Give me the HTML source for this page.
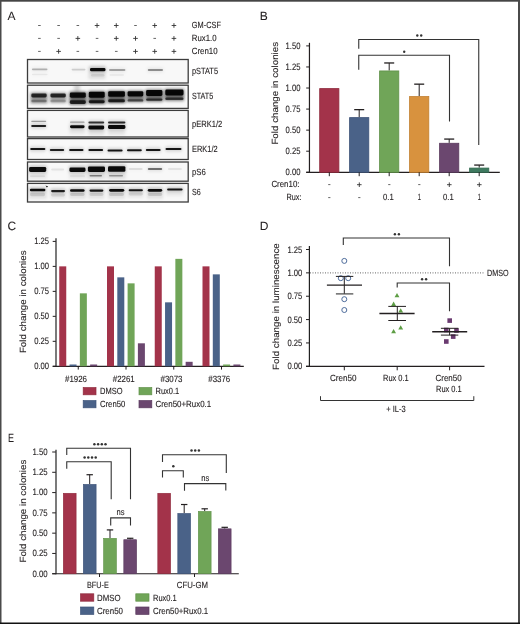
<!DOCTYPE html>
<html><head><meta charset="utf-8"><style>
html,body{margin:0;padding:0;background:#fff;}
svg{display:block;will-change:transform;}
text{font-family:"Liberation Sans",sans-serif;stroke:#231f20;stroke-width:0.12px;text-rendering:geometricPrecision;}
</style></head><body>
<svg width="520" height="624" viewBox="0 0 520 624">
<rect x="0" y="0" width="520" height="624" fill="#ffffff"/>
<text x="7.60" y="19.80" font-size="12" fill="#231f20" style="stroke-width:0.05px">A</text>
<line x1="38.10" y1="25.50" x2="40.70" y2="25.50" stroke="#4a4a4a" stroke-width="0.85"/>
<line x1="57.32" y1="25.50" x2="59.92" y2="25.50" stroke="#4a4a4a" stroke-width="0.85"/>
<line x1="76.54" y1="25.50" x2="79.14" y2="25.50" stroke="#4a4a4a" stroke-width="0.85"/>
<line x1="94.76" y1="25.50" x2="99.36" y2="25.50" stroke="#333" stroke-width="0.9"/>
<line x1="97.06" y1="23.20" x2="97.06" y2="27.80" stroke="#333" stroke-width="0.9"/>
<line x1="113.98" y1="25.50" x2="118.58" y2="25.50" stroke="#333" stroke-width="0.9"/>
<line x1="116.28" y1="23.20" x2="116.28" y2="27.80" stroke="#333" stroke-width="0.9"/>
<line x1="134.20" y1="25.50" x2="136.80" y2="25.50" stroke="#4a4a4a" stroke-width="0.85"/>
<line x1="152.42" y1="25.50" x2="157.02" y2="25.50" stroke="#333" stroke-width="0.9"/>
<line x1="154.72" y1="23.20" x2="154.72" y2="27.80" stroke="#333" stroke-width="0.9"/>
<line x1="171.64" y1="25.50" x2="176.24" y2="25.50" stroke="#333" stroke-width="0.9"/>
<line x1="173.94" y1="23.20" x2="173.94" y2="27.80" stroke="#333" stroke-width="0.9"/>
<text x="191.80" y="27.80" font-size="9.0" fill="#231f20" textLength="29.10" lengthAdjust="spacingAndGlyphs">GM-CSF</text>
<line x1="38.10" y1="38.40" x2="40.70" y2="38.40" stroke="#4a4a4a" stroke-width="0.85"/>
<line x1="57.32" y1="38.40" x2="59.92" y2="38.40" stroke="#4a4a4a" stroke-width="0.85"/>
<line x1="75.54" y1="38.40" x2="80.14" y2="38.40" stroke="#333" stroke-width="0.9"/>
<line x1="77.84" y1="36.10" x2="77.84" y2="40.70" stroke="#333" stroke-width="0.9"/>
<line x1="95.76" y1="38.40" x2="98.36" y2="38.40" stroke="#4a4a4a" stroke-width="0.85"/>
<line x1="113.98" y1="38.40" x2="118.58" y2="38.40" stroke="#333" stroke-width="0.9"/>
<line x1="116.28" y1="36.10" x2="116.28" y2="40.70" stroke="#333" stroke-width="0.9"/>
<line x1="133.20" y1="38.40" x2="137.80" y2="38.40" stroke="#333" stroke-width="0.9"/>
<line x1="135.50" y1="36.10" x2="135.50" y2="40.70" stroke="#333" stroke-width="0.9"/>
<line x1="153.42" y1="38.40" x2="156.02" y2="38.40" stroke="#4a4a4a" stroke-width="0.85"/>
<line x1="171.64" y1="38.40" x2="176.24" y2="38.40" stroke="#333" stroke-width="0.9"/>
<line x1="173.94" y1="36.10" x2="173.94" y2="40.70" stroke="#333" stroke-width="0.9"/>
<text x="191.80" y="40.70" font-size="9.0" fill="#231f20" textLength="24.70" lengthAdjust="spacingAndGlyphs">Rux1.0</text>
<line x1="38.10" y1="51.40" x2="40.70" y2="51.40" stroke="#4a4a4a" stroke-width="0.85"/>
<line x1="56.32" y1="51.40" x2="60.92" y2="51.40" stroke="#333" stroke-width="0.9"/>
<line x1="58.62" y1="49.10" x2="58.62" y2="53.70" stroke="#333" stroke-width="0.9"/>
<line x1="76.54" y1="51.40" x2="79.14" y2="51.40" stroke="#4a4a4a" stroke-width="0.85"/>
<line x1="95.76" y1="51.40" x2="98.36" y2="51.40" stroke="#4a4a4a" stroke-width="0.85"/>
<line x1="114.98" y1="51.40" x2="117.58" y2="51.40" stroke="#4a4a4a" stroke-width="0.85"/>
<line x1="133.20" y1="51.40" x2="137.80" y2="51.40" stroke="#333" stroke-width="0.9"/>
<line x1="135.50" y1="49.10" x2="135.50" y2="53.70" stroke="#333" stroke-width="0.9"/>
<line x1="152.42" y1="51.40" x2="157.02" y2="51.40" stroke="#333" stroke-width="0.9"/>
<line x1="154.72" y1="49.10" x2="154.72" y2="53.70" stroke="#333" stroke-width="0.9"/>
<line x1="171.64" y1="51.40" x2="176.24" y2="51.40" stroke="#333" stroke-width="0.9"/>
<line x1="173.94" y1="49.10" x2="173.94" y2="53.70" stroke="#333" stroke-width="0.9"/>
<text x="191.80" y="54.00" font-size="9.0" fill="#231f20" textLength="25.80" lengthAdjust="spacingAndGlyphs">Cren10</text>
<text x="192.00" y="73.90" font-size="9.0" fill="#231f20" textLength="26.00" lengthAdjust="spacingAndGlyphs">pSTAT5</text>
<text x="192.00" y="99.30" font-size="9.0" fill="#231f20" textLength="21.20" lengthAdjust="spacingAndGlyphs">STAT5</text>
<text x="192.00" y="126.80" font-size="9.0" fill="#231f20" textLength="30.20" lengthAdjust="spacingAndGlyphs">pERK1/2</text>
<text x="192.00" y="152.00" font-size="9.0" fill="#231f20" textLength="25.60" lengthAdjust="spacingAndGlyphs">ERK1/2</text>
<text x="192.00" y="174.60" font-size="9.0" fill="#231f20" textLength="13.80" lengthAdjust="spacingAndGlyphs">pS6</text>
<text x="192.00" y="195.30" font-size="9.0" fill="#231f20" textLength="8.70" lengthAdjust="spacingAndGlyphs">S6</text>
<defs><filter id="bb" x="-20%" y="-100%" width="140%" height="300%"><feGaussianBlur stdDeviation="0.45"/></filter><filter id="bh" x="-20%" y="-100%" width="140%" height="300%"><feGaussianBlur stdDeviation="1.6"/></filter><filter id="bs" x="-100%" y="-100%" width="300%" height="300%"><feGaussianBlur stdDeviation="1.5"/></filter><clipPath id="bc"><rect x="27.5" y="59.5" width="160.7" height="23.5"/><rect x="27.5" y="85.2" width="160.7" height="23.200000000000003"/><rect x="27.5" y="110.4" width="160.7" height="26.599999999999994"/><rect x="27.5" y="138.6" width="160.7" height="20.900000000000006"/><rect x="27.5" y="162.0" width="160.7" height="19.19999999999999"/><rect x="27.5" y="183.4" width="160.7" height="18.599999999999994"/></clipPath></defs>
<rect x="27.5" y="59.5" width="160.7" height="23.5" fill="#f8f8f8"/>
<rect x="27.5" y="85.2" width="160.7" height="23.200000000000003" fill="#f8f8f8"/>
<rect x="27.5" y="110.4" width="160.7" height="26.599999999999994" fill="#f8f8f8"/>
<rect x="27.5" y="138.6" width="160.7" height="20.900000000000006" fill="#f8f8f8"/>
<rect x="27.5" y="162.0" width="160.7" height="19.19999999999999" fill="#f8f8f8"/>
<rect x="27.5" y="183.4" width="160.7" height="18.599999999999994" fill="#f8f8f8"/>
<g clip-path="url(#bc)"><g filter="url(#bh)">
<rect x="31.40" y="66.90" width="16.60" height="4.80" rx="2" fill="#000" fill-opacity="0.045"/>
<rect x="31.40" y="72.35" width="16.60" height="4.50" rx="2" fill="#000" fill-opacity="0.010"/>
<rect x="71.10" y="67.30" width="14.90" height="4.60" rx="2" fill="#000" fill-opacity="0.026"/>
<rect x="89.50" y="66.40" width="16.50" height="6.40" rx="2" fill="#000" fill-opacity="0.160"/>
<rect x="90.50" y="72.50" width="14.50" height="5.40" rx="2" fill="#000" fill-opacity="0.013"/>
<rect x="108.50" y="67.60" width="17.40" height="4.80" rx="2" fill="#000" fill-opacity="0.054"/>
<rect x="109.00" y="72.80" width="15.50" height="4.40" rx="2" fill="#000" fill-opacity="0.010"/>
<rect x="147.30" y="67.60" width="16.20" height="4.80" rx="2" fill="#000" fill-opacity="0.067"/>
<rect x="30.80" y="92.10" width="16.40" height="6.80" rx="2" fill="#000" fill-opacity="0.128"/>
<rect x="30.80" y="98.20" width="16.40" height="5.60" rx="2" fill="#000" fill-opacity="0.048"/>
<rect x="49.90" y="92.10" width="16.40" height="6.80" rx="2" fill="#000" fill-opacity="0.131"/>
<rect x="49.90" y="98.30" width="16.40" height="5.40" rx="2" fill="#000" fill-opacity="0.032"/>
<rect x="69.30" y="91.00" width="17.00" height="8.20" rx="2" fill="#000" fill-opacity="0.152"/>
<rect x="69.30" y="98.80" width="17.00" height="6.60" rx="2" fill="#000" fill-opacity="0.128"/>
<rect x="88.30" y="90.20" width="16.90" height="9.00" rx="2" fill="#000" fill-opacity="0.160"/>
<rect x="88.30" y="98.70" width="16.90" height="6.00" rx="2" fill="#000" fill-opacity="0.131"/>
<rect x="107.70" y="89.70" width="17.70" height="8.60" rx="2" fill="#000" fill-opacity="0.160"/>
<rect x="107.70" y="97.80" width="17.70" height="6.00" rx="2" fill="#000" fill-opacity="0.128"/>
<rect x="127.10" y="89.70" width="16.70" height="8.20" rx="2" fill="#000" fill-opacity="0.160"/>
<rect x="127.10" y="97.70" width="16.70" height="5.40" rx="2" fill="#000" fill-opacity="0.088"/>
<rect x="145.60" y="88.50" width="17.30" height="9.00" rx="2" fill="#000" fill-opacity="0.160"/>
<rect x="145.60" y="96.90" width="17.30" height="5.40" rx="2" fill="#000" fill-opacity="0.112"/>
<rect x="164.80" y="88.05" width="19.20" height="8.90" rx="2" fill="#000" fill-opacity="0.160"/>
<rect x="164.80" y="96.10" width="19.20" height="5.40" rx="2" fill="#000" fill-opacity="0.109"/>
<rect x="30.70" y="119.20" width="16.00" height="4.20" rx="2" fill="#000" fill-opacity="0.056"/>
<rect x="30.70" y="123.40" width="16.00" height="5.00" rx="2" fill="#000" fill-opacity="0.144"/>
<rect x="69.50" y="120.10" width="15.60" height="4.20" rx="2" fill="#000" fill-opacity="0.056"/>
<rect x="69.50" y="123.70" width="15.60" height="6.00" rx="2" fill="#000" fill-opacity="0.160"/>
<rect x="87.90" y="120.10" width="16.80" height="5.00" rx="2" fill="#000" fill-opacity="0.128"/>
<rect x="87.90" y="123.90" width="16.80" height="7.00" rx="2" fill="#000" fill-opacity="0.160"/>
<rect x="107.50" y="120.00" width="18.40" height="5.00" rx="2" fill="#000" fill-opacity="0.136"/>
<rect x="107.50" y="123.50" width="18.40" height="7.00" rx="2" fill="#000" fill-opacity="0.160"/>
<rect x="29.70" y="146.60" width="16.20" height="5.00" rx="2" fill="#000" fill-opacity="0.152"/>
<rect x="49.30" y="147.50" width="15.40" height="5.00" rx="2" fill="#000" fill-opacity="0.144"/>
<rect x="68.60" y="147.50" width="15.40" height="5.00" rx="2" fill="#000" fill-opacity="0.152"/>
<rect x="87.90" y="147.50" width="15.70" height="5.00" rx="2" fill="#000" fill-opacity="0.152"/>
<rect x="107.00" y="147.90" width="16.10" height="5.00" rx="2" fill="#000" fill-opacity="0.152"/>
<rect x="126.50" y="147.70" width="15.80" height="5.00" rx="2" fill="#000" fill-opacity="0.152"/>
<rect x="145.30" y="147.50" width="15.80" height="5.00" rx="2" fill="#000" fill-opacity="0.152"/>
<rect x="165.00" y="146.60" width="17.00" height="5.00" rx="2" fill="#000" fill-opacity="0.152"/>
<rect x="28.60" y="165.40" width="18.10" height="8.00" rx="2" fill="#000" fill-opacity="0.160"/>
<rect x="29.50" y="174.00" width="16.00" height="4.20" rx="2" fill="#000" fill-opacity="0.016"/>
<rect x="50.60" y="167.10" width="14.10" height="5.00" rx="2" fill="#000" fill-opacity="0.013"/>
<rect x="68.90" y="166.10" width="17.10" height="7.40" rx="2" fill="#000" fill-opacity="0.160"/>
<rect x="69.50" y="173.90" width="16.00" height="4.20" rx="2" fill="#000" fill-opacity="0.016"/>
<rect x="87.40" y="164.90" width="18.10" height="8.60" rx="2" fill="#000" fill-opacity="0.160"/>
<rect x="89.00" y="173.55" width="13.50" height="4.50" rx="2" fill="#000" fill-opacity="0.072"/>
<rect x="107.50" y="164.70" width="18.40" height="8.60" rx="2" fill="#000" fill-opacity="0.160"/>
<rect x="108.50" y="173.60" width="15.00" height="4.40" rx="2" fill="#000" fill-opacity="0.056"/>
<rect x="128.20" y="166.50" width="14.90" height="5.00" rx="2" fill="#000" fill-opacity="0.016"/>
<rect x="147.30" y="166.60" width="15.40" height="5.00" rx="2" fill="#000" fill-opacity="0.088"/>
<rect x="167.40" y="166.50" width="14.90" height="5.00" rx="2" fill="#000" fill-opacity="0.013"/>
<rect x="29.40" y="187.30" width="16.50" height="5.40" rx="2" fill="#000" fill-opacity="0.160"/>
<rect x="29.50" y="191.25" width="16.00" height="6.50" rx="2" fill="#000" fill-opacity="0.019"/>
<rect x="50.60" y="188.50" width="14.90" height="5.20" rx="2" fill="#000" fill-opacity="0.144"/>
<rect x="50.50" y="192.00" width="15.00" height="6.00" rx="2" fill="#000" fill-opacity="0.016"/>
<rect x="69.50" y="187.70" width="15.60" height="5.60" rx="2" fill="#000" fill-opacity="0.160"/>
<rect x="69.50" y="191.50" width="15.60" height="6.00" rx="2" fill="#000" fill-opacity="0.019"/>
<rect x="89.00" y="187.95" width="14.90" height="5.30" rx="2" fill="#000" fill-opacity="0.152"/>
<rect x="89.00" y="191.50" width="14.90" height="6.00" rx="2" fill="#000" fill-opacity="0.016"/>
<rect x="108.60" y="187.40" width="16.20" height="5.80" rx="2" fill="#000" fill-opacity="0.160"/>
<rect x="108.50" y="191.50" width="16.00" height="6.00" rx="2" fill="#000" fill-opacity="0.019"/>
<rect x="128.20" y="187.70" width="15.20" height="5.00" rx="2" fill="#000" fill-opacity="0.152"/>
<rect x="128.20" y="191.00" width="15.20" height="6.00" rx="2" fill="#000" fill-opacity="0.016"/>
<rect x="147.30" y="187.40" width="15.40" height="5.80" rx="2" fill="#000" fill-opacity="0.160"/>
<rect x="147.30" y="191.50" width="15.40" height="6.00" rx="2" fill="#000" fill-opacity="0.019"/>
<rect x="166.60" y="187.00" width="16.50" height="5.00" rx="2" fill="#000" fill-opacity="0.152"/>
<rect x="69.5" y="128.5" width="15.50" height="5.50" fill="#000" fill-opacity="0.07"/>
<rect x="88.5" y="129" width="16.00" height="6.00" fill="#000" fill-opacity="0.09"/>
<rect x="108" y="129" width="17.00" height="6.00" fill="#000" fill-opacity="0.08"/>
<rect x="30.5" y="93" width="17.00" height="10.50" fill="#000" fill-opacity="0.36"/>
<rect x="50" y="93" width="16.50" height="10.00" fill="#000" fill-opacity="0.3"/>
<rect x="69.5" y="92" width="17.00" height="12.50" fill="#000" fill-opacity="0.55"/>
<rect x="88.5" y="91.5" width="17.00" height="12.50" fill="#000" fill-opacity="0.55"/>
<rect x="107.5" y="91" width="18.00" height="12.00" fill="#000" fill-opacity="0.55"/>
<rect x="127" y="91" width="17.00" height="11.00" fill="#000" fill-opacity="0.48"/>
<rect x="145.5" y="90" width="17.50" height="11.50" fill="#000" fill-opacity="0.52"/>
<rect x="164.5" y="89.5" width="19.50" height="11.00" fill="#000" fill-opacity="0.52"/>
<rect x="88.5" y="66" width="17.00" height="13.00" fill="#000" fill-opacity="0.1"/>
<rect x="28.5" y="187" width="18.50" height="12.00" fill="#000" fill-opacity="0.08"/>
<rect x="50" y="188" width="16.00" height="11.00" fill="#000" fill-opacity="0.06"/>
<rect x="69" y="188" width="17.00" height="11.00" fill="#000" fill-opacity="0.08"/>
<rect x="88" y="188" width="16.50" height="11.00" fill="#000" fill-opacity="0.07"/>
<rect x="108" y="187" width="17.00" height="12.00" fill="#000" fill-opacity="0.08"/>
<rect x="127" y="188" width="16.50" height="10.00" fill="#000" fill-opacity="0.06"/>
<rect x="147" y="187" width="16.00" height="12.00" fill="#000" fill-opacity="0.08"/>
<rect x="166" y="187" width="17.00" height="9.00" fill="#000" fill-opacity="0.06"/>
<rect x="87" y="164" width="19.00" height="15.00" fill="#000" fill-opacity="0.08"/>
<rect x="107" y="164" width="19.00" height="15.00" fill="#000" fill-opacity="0.08"/>
<rect x="29" y="165" width="18.00" height="14.00" fill="#000" fill-opacity="0.06"/>
<rect x="69" y="165" width="17.00" height="14.00" fill="#000" fill-opacity="0.06"/>
</g><g filter="url(#bb)">
<rect x="31.90" y="68.40" width="15.60" height="1.80" rx="0.90" fill="#000" fill-opacity="0.266"/>
<rect x="31.90" y="73.85" width="15.60" height="1.50" rx="0.75" fill="#000" fill-opacity="0.057"/>
<rect x="71.60" y="68.80" width="13.90" height="1.60" rx="0.80" fill="#000" fill-opacity="0.152"/>
<rect x="90.00" y="67.90" width="15.50" height="3.40" rx="1.40" fill="#000" fill-opacity="0.950"/>
<rect x="91.00" y="74.00" width="13.50" height="2.40" rx="1.20" fill="#000" fill-opacity="0.076"/>
<rect x="109.00" y="69.10" width="16.40" height="1.80" rx="0.90" fill="#000" fill-opacity="0.323"/>
<rect x="109.50" y="74.30" width="14.50" height="1.40" rx="0.70" fill="#000" fill-opacity="0.057"/>
<rect x="147.80" y="69.10" width="15.20" height="1.80" rx="0.90" fill="#000" fill-opacity="0.399"/>
<rect x="31.30" y="93.60" width="15.40" height="3.80" rx="1.40" fill="#000" fill-opacity="0.760"/>
<rect x="31.30" y="99.70" width="15.40" height="2.60" rx="1.30" fill="#000" fill-opacity="0.285"/>
<rect x="50.40" y="93.60" width="15.40" height="3.80" rx="1.40" fill="#000" fill-opacity="0.779"/>
<rect x="50.40" y="99.80" width="15.40" height="2.40" rx="1.20" fill="#000" fill-opacity="0.190"/>
<rect x="69.80" y="92.50" width="16.00" height="5.20" rx="1.40" fill="#000" fill-opacity="0.902"/>
<rect x="69.80" y="100.30" width="16.00" height="3.60" rx="1.40" fill="#000" fill-opacity="0.760"/>
<rect x="88.80" y="91.70" width="15.90" height="6.00" rx="1.40" fill="#000" fill-opacity="0.950"/>
<rect x="88.80" y="100.20" width="15.90" height="3.00" rx="1.40" fill="#000" fill-opacity="0.779"/>
<rect x="108.20" y="91.20" width="16.70" height="5.60" rx="1.40" fill="#000" fill-opacity="0.950"/>
<rect x="108.20" y="99.30" width="16.70" height="3.00" rx="1.40" fill="#000" fill-opacity="0.760"/>
<rect x="127.60" y="91.20" width="15.70" height="5.20" rx="1.40" fill="#000" fill-opacity="0.950"/>
<rect x="127.60" y="99.20" width="15.70" height="2.40" rx="1.20" fill="#000" fill-opacity="0.522"/>
<rect x="146.10" y="90.00" width="16.30" height="6.00" rx="1.40" fill="#000" fill-opacity="0.950"/>
<rect x="146.10" y="98.40" width="16.30" height="2.40" rx="1.20" fill="#000" fill-opacity="0.665"/>
<rect x="165.30" y="89.55" width="18.20" height="5.90" rx="1.40" fill="#000" fill-opacity="0.950"/>
<rect x="165.30" y="97.60" width="18.20" height="2.40" rx="1.20" fill="#000" fill-opacity="0.646"/>
<rect x="31.20" y="120.70" width="15.00" height="1.20" rx="0.60" fill="#000" fill-opacity="0.332"/>
<rect x="31.20" y="124.90" width="15.00" height="2.00" rx="1.00" fill="#000" fill-opacity="0.855"/>
<rect x="70.00" y="121.60" width="14.60" height="1.20" rx="0.60" fill="#000" fill-opacity="0.332"/>
<rect x="70.00" y="125.20" width="14.60" height="3.00" rx="1.40" fill="#000" fill-opacity="0.950"/>
<rect x="88.40" y="121.60" width="15.80" height="2.00" rx="1.00" fill="#000" fill-opacity="0.760"/>
<rect x="88.40" y="125.40" width="15.80" height="4.00" rx="1.40" fill="#000" fill-opacity="0.950"/>
<rect x="108.00" y="121.50" width="17.40" height="2.00" rx="1.00" fill="#000" fill-opacity="0.807"/>
<rect x="108.00" y="125.00" width="17.40" height="4.00" rx="1.40" fill="#000" fill-opacity="0.950"/>
<rect x="30.20" y="148.10" width="15.20" height="2.00" rx="1.00" fill="#000" fill-opacity="0.902"/>
<rect x="49.80" y="149.00" width="14.40" height="2.00" rx="1.00" fill="#000" fill-opacity="0.855"/>
<rect x="69.10" y="149.00" width="14.40" height="2.00" rx="1.00" fill="#000" fill-opacity="0.902"/>
<rect x="88.40" y="149.00" width="14.70" height="2.00" rx="1.00" fill="#000" fill-opacity="0.902"/>
<rect x="107.50" y="149.40" width="15.10" height="2.00" rx="1.00" fill="#000" fill-opacity="0.902"/>
<rect x="127.00" y="149.20" width="14.80" height="2.00" rx="1.00" fill="#000" fill-opacity="0.902"/>
<rect x="145.80" y="149.00" width="14.80" height="2.00" rx="1.00" fill="#000" fill-opacity="0.902"/>
<rect x="165.50" y="148.10" width="16.00" height="2.00" rx="1.00" fill="#000" fill-opacity="0.902"/>
<rect x="29.10" y="166.90" width="17.10" height="5.00" rx="1.40" fill="#000" fill-opacity="0.950"/>
<rect x="30.00" y="175.50" width="15.00" height="1.20" rx="0.60" fill="#000" fill-opacity="0.095"/>
<rect x="51.10" y="168.60" width="13.10" height="2.00" rx="1.00" fill="#000" fill-opacity="0.076"/>
<rect x="69.40" y="167.60" width="16.10" height="4.40" rx="1.40" fill="#000" fill-opacity="0.950"/>
<rect x="70.00" y="175.40" width="15.00" height="1.20" rx="0.60" fill="#000" fill-opacity="0.095"/>
<rect x="87.90" y="166.40" width="17.10" height="5.60" rx="1.40" fill="#000" fill-opacity="0.950"/>
<rect x="89.50" y="175.05" width="12.50" height="1.50" rx="0.75" fill="#000" fill-opacity="0.427"/>
<rect x="108.00" y="166.20" width="17.40" height="5.60" rx="1.40" fill="#000" fill-opacity="0.950"/>
<rect x="109.00" y="175.10" width="14.00" height="1.40" rx="0.70" fill="#000" fill-opacity="0.332"/>
<rect x="128.70" y="168.00" width="13.90" height="2.00" rx="1.00" fill="#000" fill-opacity="0.095"/>
<rect x="147.80" y="168.10" width="14.40" height="2.00" rx="1.00" fill="#000" fill-opacity="0.522"/>
<rect x="167.90" y="168.00" width="13.90" height="2.00" rx="1.00" fill="#000" fill-opacity="0.076"/>
<rect x="29.90" y="188.80" width="15.50" height="2.40" rx="1.20" fill="#000" fill-opacity="0.950"/>
<rect x="30.00" y="192.75" width="15.00" height="3.50" rx="1.40" fill="#000" fill-opacity="0.114"/>
<rect x="51.10" y="190.00" width="13.90" height="2.20" rx="1.10" fill="#000" fill-opacity="0.855"/>
<rect x="51.00" y="193.50" width="14.00" height="3.00" rx="1.40" fill="#000" fill-opacity="0.095"/>
<rect x="70.00" y="189.20" width="14.60" height="2.60" rx="1.30" fill="#000" fill-opacity="0.950"/>
<rect x="70.00" y="193.00" width="14.60" height="3.00" rx="1.40" fill="#000" fill-opacity="0.114"/>
<rect x="89.50" y="189.45" width="13.90" height="2.30" rx="1.15" fill="#000" fill-opacity="0.902"/>
<rect x="89.50" y="193.00" width="13.90" height="3.00" rx="1.40" fill="#000" fill-opacity="0.095"/>
<rect x="109.10" y="188.90" width="15.20" height="2.80" rx="1.40" fill="#000" fill-opacity="0.950"/>
<rect x="109.00" y="193.00" width="15.00" height="3.00" rx="1.40" fill="#000" fill-opacity="0.114"/>
<rect x="128.70" y="189.20" width="14.20" height="2.00" rx="1.00" fill="#000" fill-opacity="0.902"/>
<rect x="128.70" y="192.50" width="14.20" height="3.00" rx="1.40" fill="#000" fill-opacity="0.095"/>
<rect x="147.80" y="188.90" width="14.40" height="2.80" rx="1.40" fill="#000" fill-opacity="0.950"/>
<rect x="147.80" y="193.00" width="14.40" height="3.00" rx="1.40" fill="#000" fill-opacity="0.114"/>
<rect x="167.10" y="188.50" width="15.50" height="2.00" rx="1.00" fill="#000" fill-opacity="0.902"/>
</g><rect x="74" y="84" width="6" height="12" fill="#000" fill-opacity="0.15" filter="url(#bs)"/></g>
<path d="M45.5,185.6 L48.2,186.6 L46.8,187.4 Z" fill="#111"/>
<rect x="27.5" y="59.5" width="160.7" height="23.5" fill="none" stroke="#3c3c3c" stroke-width="1.3"/>
<rect x="27.5" y="85.2" width="160.7" height="23.200000000000003" fill="none" stroke="#3c3c3c" stroke-width="1.3"/>
<rect x="27.5" y="110.4" width="160.7" height="26.599999999999994" fill="none" stroke="#3c3c3c" stroke-width="1.3"/>
<rect x="27.5" y="138.6" width="160.7" height="20.900000000000006" fill="none" stroke="#3c3c3c" stroke-width="1.3"/>
<rect x="27.5" y="162.0" width="160.7" height="19.19999999999999" fill="none" stroke="#3c3c3c" stroke-width="1.3"/>
<rect x="27.5" y="183.4" width="160.7" height="18.599999999999994" fill="none" stroke="#3c3c3c" stroke-width="1.3"/>
<text x="259.80" y="20.00" font-size="12" fill="#231f20" style="stroke-width:0.05px">B</text>
<text x="285.60" y="48.80" font-size="9.4" fill="#231f20" textLength="14.90" lengthAdjust="spacingAndGlyphs">1.50</text>
<line x1="306.20" y1="45.90" x2="309.20" y2="45.90" stroke="#231f20" stroke-width="1"/>
<text x="285.60" y="69.86" font-size="9.4" fill="#231f20" textLength="14.90" lengthAdjust="spacingAndGlyphs">1.25</text>
<line x1="306.20" y1="66.96" x2="309.20" y2="66.96" stroke="#231f20" stroke-width="1"/>
<text x="285.60" y="90.92" font-size="9.4" fill="#231f20" textLength="14.90" lengthAdjust="spacingAndGlyphs">1.00</text>
<line x1="306.20" y1="88.02" x2="309.20" y2="88.02" stroke="#231f20" stroke-width="1"/>
<text x="285.60" y="111.98" font-size="9.4" fill="#231f20" textLength="14.90" lengthAdjust="spacingAndGlyphs">0.75</text>
<line x1="306.20" y1="109.08" x2="309.20" y2="109.08" stroke="#231f20" stroke-width="1"/>
<text x="285.60" y="133.04" font-size="9.4" fill="#231f20" textLength="14.90" lengthAdjust="spacingAndGlyphs">0.50</text>
<line x1="306.20" y1="130.14" x2="309.20" y2="130.14" stroke="#231f20" stroke-width="1"/>
<text x="285.60" y="154.10" font-size="9.4" fill="#231f20" textLength="14.90" lengthAdjust="spacingAndGlyphs">0.25</text>
<line x1="306.20" y1="151.20" x2="309.20" y2="151.20" stroke="#231f20" stroke-width="1"/>
<text x="285.60" y="175.16" font-size="9.4" fill="#231f20" textLength="14.90" lengthAdjust="spacingAndGlyphs">0.00</text>
<line x1="306.20" y1="172.26" x2="309.20" y2="172.26" stroke="#231f20" stroke-width="1"/>
<line x1="309.45" y1="42.80" x2="309.45" y2="172.80" stroke="#231f20" stroke-width="1.2"/>
<line x1="306.20" y1="172.35" x2="499.80" y2="172.35" stroke="#231f20" stroke-width="1.1"/>
<text transform="translate(277.90,144.60) rotate(-90)" font-size="9.0" fill="#231f20" textLength="102.70" lengthAdjust="spacingAndGlyphs">Fold change in colonies</text>
<rect x="319.70" y="88.60" width="19.20" height="83.70" fill="#a3334a" stroke="#8e2a3c" stroke-width="0.8"/>
<line x1="329.30" y1="172.30" x2="329.30" y2="176.20" stroke="#231f20" stroke-width="1"/>
<line x1="359.20" y1="109.65" x2="359.20" y2="117.21" stroke="#231f20" stroke-width="1"/>
<line x1="354.20" y1="109.65" x2="364.20" y2="109.65" stroke="#231f20" stroke-width="1.3"/>
<rect x="349.60" y="117.61" width="19.20" height="54.69" fill="#4a6288" stroke="#3d5378" stroke-width="0.8"/>
<line x1="359.20" y1="172.30" x2="359.20" y2="176.20" stroke="#231f20" stroke-width="1"/>
<line x1="389.20" y1="62.97" x2="389.20" y2="70.54" stroke="#231f20" stroke-width="1"/>
<line x1="384.20" y1="62.97" x2="394.20" y2="62.97" stroke="#231f20" stroke-width="1.3"/>
<rect x="379.60" y="70.94" width="19.20" height="101.36" fill="#70a558" stroke="#5f9148" stroke-width="0.8"/>
<line x1="389.20" y1="172.30" x2="389.20" y2="176.20" stroke="#231f20" stroke-width="1"/>
<line x1="419.20" y1="84.16" x2="419.20" y2="96.19" stroke="#231f20" stroke-width="1"/>
<line x1="414.20" y1="84.16" x2="424.20" y2="84.16" stroke="#231f20" stroke-width="1.3"/>
<rect x="409.60" y="96.59" width="19.20" height="75.71" fill="#d8923e" stroke="#c27f30" stroke-width="0.8"/>
<line x1="419.20" y1="172.30" x2="419.20" y2="176.20" stroke="#231f20" stroke-width="1"/>
<line x1="449.20" y1="139.08" x2="449.20" y2="142.87" stroke="#231f20" stroke-width="1"/>
<line x1="444.20" y1="139.08" x2="454.20" y2="139.08" stroke="#231f20" stroke-width="1.3"/>
<rect x="439.60" y="143.27" width="19.20" height="29.04" fill="#6b476f" stroke="#5a3a5e" stroke-width="0.8"/>
<line x1="449.20" y1="172.30" x2="449.20" y2="176.20" stroke="#231f20" stroke-width="1"/>
<line x1="479.20" y1="165.07" x2="479.20" y2="167.67" stroke="#231f20" stroke-width="1"/>
<line x1="474.20" y1="165.07" x2="484.20" y2="165.07" stroke="#231f20" stroke-width="1.3"/>
<rect x="469.60" y="168.07" width="19.20" height="4.23" fill="#3f7a60" stroke="#336a50" stroke-width="0.8"/>
<line x1="479.20" y1="172.30" x2="479.20" y2="176.20" stroke="#231f20" stroke-width="1"/>
<path d="M358.75,48.8 V39.5 H478.75 V145" fill="none" stroke="#333" stroke-width="1.1"/>
<path d="M358.75,69.8 V55.3 H449.5 V121.5" fill="none" stroke="#333" stroke-width="1.1"/>
<circle cx="417.30" cy="35.50" r="1.2" fill="#333"/>
<circle cx="421.20" cy="35.50" r="1.2" fill="#333"/>
<circle cx="404.20" cy="51.70" r="1.2" fill="#333"/>
<text x="271.40" y="187.20" font-size="9.0" fill="#231f20" textLength="28.10" lengthAdjust="spacingAndGlyphs">Cren10:</text>
<text x="286.50" y="200.00" font-size="9.0" fill="#231f20" textLength="15.00" lengthAdjust="spacingAndGlyphs">Rux:</text>
<line x1="328.20" y1="184.60" x2="330.40" y2="184.60" stroke="#4a4a4a" stroke-width="0.85"/>
<line x1="357.00" y1="184.70" x2="361.60" y2="184.70" stroke="#333" stroke-width="0.9"/>
<line x1="359.30" y1="182.40" x2="359.30" y2="187.00" stroke="#333" stroke-width="0.9"/>
<line x1="388.20" y1="184.60" x2="390.40" y2="184.60" stroke="#4a4a4a" stroke-width="0.85"/>
<line x1="418.20" y1="184.60" x2="420.40" y2="184.60" stroke="#4a4a4a" stroke-width="0.85"/>
<line x1="447.00" y1="184.70" x2="451.60" y2="184.70" stroke="#333" stroke-width="0.9"/>
<line x1="449.30" y1="182.40" x2="449.30" y2="187.00" stroke="#333" stroke-width="0.9"/>
<line x1="477.00" y1="184.70" x2="481.60" y2="184.70" stroke="#333" stroke-width="0.9"/>
<line x1="479.30" y1="182.40" x2="479.30" y2="187.00" stroke="#333" stroke-width="0.9"/>
<line x1="328.20" y1="197.60" x2="330.40" y2="197.60" stroke="#4a4a4a" stroke-width="0.85"/>
<line x1="358.20" y1="197.60" x2="360.40" y2="197.60" stroke="#4a4a4a" stroke-width="0.85"/>
<text x="383.10" y="199.90" font-size="9.0" fill="#231f20" textLength="10.60" lengthAdjust="spacingAndGlyphs">0.1</text>
<text x="417.70" y="199.90" font-size="9.0" fill="#231f20" textLength="3.20" lengthAdjust="spacingAndGlyphs">1</text>
<text x="443.10" y="199.90" font-size="9.0" fill="#231f20" textLength="10.60" lengthAdjust="spacingAndGlyphs">0.1</text>
<text x="477.70" y="199.90" font-size="9.0" fill="#231f20" textLength="3.20" lengthAdjust="spacingAndGlyphs">1</text>
<text x="7.40" y="230.00" font-size="12" fill="#231f20" style="stroke-width:0.05px">C</text>
<text x="34.20" y="244.15" font-size="9.4" fill="#231f20" textLength="14.90" lengthAdjust="spacingAndGlyphs">1.25</text>
<line x1="52.70" y1="241.40" x2="56.00" y2="241.40" stroke="#231f20" stroke-width="1"/>
<text x="34.20" y="269.13" font-size="9.4" fill="#231f20" textLength="14.90" lengthAdjust="spacingAndGlyphs">1.00</text>
<line x1="52.70" y1="266.38" x2="56.00" y2="266.38" stroke="#231f20" stroke-width="1"/>
<text x="34.20" y="294.11" font-size="9.4" fill="#231f20" textLength="14.90" lengthAdjust="spacingAndGlyphs">0.75</text>
<line x1="52.70" y1="291.36" x2="56.00" y2="291.36" stroke="#231f20" stroke-width="1"/>
<text x="34.20" y="319.09" font-size="9.4" fill="#231f20" textLength="14.90" lengthAdjust="spacingAndGlyphs">0.50</text>
<line x1="52.70" y1="316.34" x2="56.00" y2="316.34" stroke="#231f20" stroke-width="1"/>
<text x="34.20" y="344.07" font-size="9.4" fill="#231f20" textLength="14.90" lengthAdjust="spacingAndGlyphs">0.25</text>
<line x1="52.70" y1="341.32" x2="56.00" y2="341.32" stroke="#231f20" stroke-width="1"/>
<text x="34.20" y="369.05" font-size="9.4" fill="#231f20" textLength="14.90" lengthAdjust="spacingAndGlyphs">0.00</text>
<line x1="52.70" y1="366.30" x2="56.00" y2="366.30" stroke="#231f20" stroke-width="1"/>
<line x1="56.00" y1="238.20" x2="56.00" y2="366.80" stroke="#333" stroke-width="1.3"/>
<line x1="52.70" y1="366.40" x2="243.80" y2="366.40" stroke="#231f20" stroke-width="1.1"/>
<text transform="translate(25.50,353.10) rotate(-90)" font-size="9.0" fill="#231f20" textLength="102.70" lengthAdjust="spacingAndGlyphs">Fold change in colonies</text>
<rect x="59.25" y="266.36" width="7.00" height="99.94" fill="#a3334a"/>
<rect x="69.55" y="364.50" width="7.00" height="1.80" fill="#4a6288"/>
<rect x="79.85" y="293.34" width="7.00" height="72.96" fill="#70a558"/>
<rect x="90.15" y="364.50" width="7.00" height="1.80" fill="#6b476f"/>
<line x1="78.25" y1="366.30" x2="78.25" y2="369.60" stroke="#231f20" stroke-width="1"/>
<rect x="107.00" y="266.36" width="7.00" height="99.94" fill="#a3334a"/>
<rect x="117.30" y="277.35" width="7.00" height="88.95" fill="#4a6288"/>
<rect x="127.60" y="283.35" width="7.00" height="82.95" fill="#70a558"/>
<rect x="137.90" y="343.31" width="7.00" height="22.99" fill="#6b476f"/>
<line x1="126.00" y1="366.30" x2="126.00" y2="369.60" stroke="#231f20" stroke-width="1"/>
<rect x="154.75" y="266.36" width="7.00" height="99.94" fill="#a3334a"/>
<rect x="165.05" y="302.34" width="7.00" height="63.96" fill="#4a6288"/>
<rect x="175.35" y="258.86" width="7.00" height="107.44" fill="#70a558"/>
<rect x="185.65" y="361.80" width="7.00" height="4.50" fill="#6b476f"/>
<line x1="173.75" y1="366.30" x2="173.75" y2="369.60" stroke="#231f20" stroke-width="1"/>
<rect x="202.50" y="266.36" width="7.00" height="99.94" fill="#a3334a"/>
<rect x="212.80" y="274.36" width="7.00" height="91.94" fill="#4a6288"/>
<rect x="223.10" y="364.50" width="7.00" height="1.80" fill="#70a558"/>
<rect x="233.40" y="364.50" width="7.00" height="1.80" fill="#6b476f"/>
<line x1="221.50" y1="366.30" x2="221.50" y2="369.60" stroke="#231f20" stroke-width="1"/>
<text x="65.00" y="381.60" font-size="9.0" fill="#231f20" textLength="22.00" lengthAdjust="spacingAndGlyphs">#1926</text>
<text x="112.75" y="381.60" font-size="9.0" fill="#231f20" textLength="22.00" lengthAdjust="spacingAndGlyphs">#2261</text>
<text x="160.50" y="381.60" font-size="9.0" fill="#231f20" textLength="22.00" lengthAdjust="spacingAndGlyphs">#3073</text>
<text x="208.25" y="381.60" font-size="9.0" fill="#231f20" textLength="22.00" lengthAdjust="spacingAndGlyphs">#3376</text>
<rect x="83.20" y="387.60" width="12.80" height="7.20" fill="#a3334a" stroke="#8e2a3c" stroke-width="0.7"/>
<rect x="83.20" y="400.60" width="12.80" height="7.20" fill="#4a6288" stroke="#3d5378" stroke-width="0.7"/>
<rect x="139.00" y="387.60" width="12.80" height="7.20" fill="#70a558" stroke="#5f9148" stroke-width="0.7"/>
<rect x="139.00" y="400.60" width="12.80" height="7.20" fill="#6b476f" stroke="#5a3a5e" stroke-width="0.7"/>
<text x="100.00" y="394.30" font-size="9.0" fill="#231f20" textLength="22.50" lengthAdjust="spacingAndGlyphs">DMSO</text>
<text x="100.00" y="407.20" font-size="9.0" fill="#231f20" textLength="25.20" lengthAdjust="spacingAndGlyphs">Cren50</text>
<text x="155.50" y="394.30" font-size="9.0" fill="#231f20" textLength="23.70" lengthAdjust="spacingAndGlyphs">Rux0.1</text>
<text x="155.50" y="407.20" font-size="9.0" fill="#231f20" textLength="55.70" lengthAdjust="spacingAndGlyphs">Cren50+Rux0.1</text>
<text x="259.80" y="230.00" font-size="12" fill="#231f20" style="stroke-width:0.05px">D</text>
<text x="287.40" y="252.50" font-size="9.4" fill="#231f20" textLength="14.90" lengthAdjust="spacingAndGlyphs">1.25</text>
<line x1="306.00" y1="249.50" x2="309.40" y2="249.50" stroke="#231f20" stroke-width="1"/>
<text x="287.40" y="275.86" font-size="9.4" fill="#231f20" textLength="14.90" lengthAdjust="spacingAndGlyphs">1.00</text>
<line x1="306.00" y1="272.86" x2="309.40" y2="272.86" stroke="#231f20" stroke-width="1"/>
<text x="287.40" y="299.22" font-size="9.4" fill="#231f20" textLength="14.90" lengthAdjust="spacingAndGlyphs">0.75</text>
<line x1="306.00" y1="296.22" x2="309.40" y2="296.22" stroke="#231f20" stroke-width="1"/>
<text x="287.40" y="322.58" font-size="9.4" fill="#231f20" textLength="14.90" lengthAdjust="spacingAndGlyphs">0.50</text>
<line x1="306.00" y1="319.58" x2="309.40" y2="319.58" stroke="#231f20" stroke-width="1"/>
<text x="287.40" y="345.94" font-size="9.4" fill="#231f20" textLength="14.90" lengthAdjust="spacingAndGlyphs">0.25</text>
<line x1="306.00" y1="342.94" x2="309.40" y2="342.94" stroke="#231f20" stroke-width="1"/>
<text x="287.40" y="369.30" font-size="9.4" fill="#231f20" textLength="14.90" lengthAdjust="spacingAndGlyphs">0.00</text>
<line x1="306.00" y1="366.30" x2="309.40" y2="366.30" stroke="#231f20" stroke-width="1"/>
<line x1="309.40" y1="246.10" x2="309.40" y2="366.80" stroke="#222" stroke-width="1.2"/>
<line x1="306.00" y1="366.35" x2="484.50" y2="366.35" stroke="#231f20" stroke-width="1.1"/>
<text transform="translate(279.20,369.90) rotate(-90)" font-size="9.0" fill="#231f20" textLength="126.70" lengthAdjust="spacingAndGlyphs">Fold change in luminescence</text>
<line x1="310" y1="272.9" x2="484" y2="272.9" stroke="#555" stroke-width="0.9" stroke-dasharray="1 1.5"/>
<text x="487.00" y="275.50" font-size="9.0" fill="#231f20" textLength="21.60" lengthAdjust="spacingAndGlyphs">DMSO</text>
<line x1="344.30" y1="366.30" x2="344.30" y2="370.30" stroke="#231f20" stroke-width="1"/>
<line x1="397.20" y1="366.30" x2="397.20" y2="370.30" stroke="#231f20" stroke-width="1"/>
<line x1="449.60" y1="366.30" x2="449.60" y2="370.30" stroke="#231f20" stroke-width="1"/>
<text x="330.00" y="381.30" font-size="9.0" fill="#231f20" textLength="26.50" lengthAdjust="spacingAndGlyphs">Cren50</text>
<text x="383.00" y="381.30" font-size="9.0" fill="#231f20" textLength="25.70" lengthAdjust="spacingAndGlyphs">Rux 0.1</text>
<text x="435.50" y="381.30" font-size="9.0" fill="#231f20" textLength="26.20" lengthAdjust="spacingAndGlyphs">Cren50</text>
<text x="436.00" y="392.00" font-size="9.0" fill="#231f20" textLength="25.70" lengthAdjust="spacingAndGlyphs">Rux 0.1</text>
<path d="M320.5,396.2 V400.5 H473.8 V396.2" fill="none" stroke="#333" stroke-width="1"/>
<text x="386.20" y="412.00" font-size="9.0" fill="#231f20" textLength="19.50" lengthAdjust="spacingAndGlyphs">+ IL-3</text>
<path d="M343.3,245 V238 H449.5 V266.3" fill="none" stroke="#333" stroke-width="1.1"/>
<path d="M397.2,287.6 V283 H449.5 V311.3" fill="none" stroke="#333" stroke-width="1.1"/>
<circle cx="394.90" cy="234.30" r="1.2" fill="#333"/>
<circle cx="398.90" cy="234.30" r="1.2" fill="#333"/>
<circle cx="422.10" cy="279.30" r="1.2" fill="#333"/>
<circle cx="426.10" cy="279.30" r="1.2" fill="#333"/>
<circle cx="344.3" cy="260.9" r="2.5" fill="none" stroke="#4f6d9c" stroke-width="1"/>
<circle cx="340.8" cy="278.2" r="2.5" fill="none" stroke="#4f6d9c" stroke-width="1"/>
<circle cx="348.2" cy="278.2" r="2.5" fill="none" stroke="#4f6d9c" stroke-width="1"/>
<circle cx="344.3" cy="299.2" r="2.5" fill="none" stroke="#4f6d9c" stroke-width="1"/>
<circle cx="344.3" cy="310" r="2.5" fill="none" stroke="#4f6d9c" stroke-width="1"/>
<line x1="344.30" y1="276.40" x2="344.30" y2="293.90" stroke="#231f20" stroke-width="1"/>
<line x1="335.90" y1="276.40" x2="353.30" y2="276.40" stroke="#231f20" stroke-width="1"/>
<line x1="335.90" y1="293.90" x2="353.30" y2="293.90" stroke="#444" stroke-width="1.2"/>
<line x1="326.90" y1="285.10" x2="362.00" y2="285.10" stroke="#231f20" stroke-width="1.4"/>
<path d="M397,292.9 L399.45,297.29999999999995 L394.55,297.29999999999995 Z" fill="#5e9e45"/>
<path d="M393.6,301.5 L396.05,305.9 L391.15000000000003,305.9 Z" fill="#5e9e45"/>
<path d="M400.7,308.2 L403.15,312.59999999999997 L398.25,312.59999999999997 Z" fill="#5e9e45"/>
<path d="M400.7,325.2 L403.15,329.59999999999997 L398.25,329.59999999999997 Z" fill="#5e9e45"/>
<path d="M393.6,328.9 L396.05,333.29999999999995 L391.15000000000003,333.29999999999995 Z" fill="#5e9e45"/>
<line x1="397.30" y1="306.40" x2="397.30" y2="320.50" stroke="#231f20" stroke-width="1"/>
<line x1="388.30" y1="306.40" x2="406.00" y2="306.40" stroke="#231f20" stroke-width="1"/>
<line x1="388.30" y1="320.50" x2="406.00" y2="320.50" stroke="#231f20" stroke-width="1"/>
<line x1="379.40" y1="313.50" x2="414.60" y2="313.50" stroke="#231f20" stroke-width="1.4"/>
<rect x="447.40" y="318.30" width="4.6" height="4.6" fill="#6a3a70"/>
<rect x="444.00" y="327.70" width="4.6" height="4.6" fill="#6a3a70"/>
<rect x="454.20" y="328.20" width="4.6" height="4.6" fill="#6a3a70"/>
<rect x="450.90" y="334.30" width="4.6" height="4.6" fill="#6a3a70"/>
<rect x="444.00" y="339.20" width="4.6" height="4.6" fill="#6a3a70"/>
<line x1="449.60" y1="328.30" x2="449.60" y2="335.10" stroke="#231f20" stroke-width="1"/>
<line x1="440.90" y1="328.30" x2="458.30" y2="328.30" stroke="#231f20" stroke-width="1"/>
<line x1="440.90" y1="335.10" x2="458.30" y2="335.10" stroke="#231f20" stroke-width="1"/>
<line x1="432.20" y1="331.70" x2="467.20" y2="331.70" stroke="#231f20" stroke-width="1.4"/>
<text x="8.00" y="442.00" font-size="12" fill="#231f20" style="stroke-width:0.05px" textLength="6.0" lengthAdjust="spacingAndGlyphs">E</text>
<text x="32.40" y="454.90" font-size="9.4" fill="#231f20" textLength="15.20" lengthAdjust="spacingAndGlyphs">1.50</text>
<line x1="52.20" y1="452.00" x2="56.00" y2="452.00" stroke="#231f20" stroke-width="1"/>
<text x="32.40" y="475.19" font-size="9.4" fill="#231f20" textLength="15.20" lengthAdjust="spacingAndGlyphs">1.25</text>
<line x1="52.20" y1="472.29" x2="56.00" y2="472.29" stroke="#231f20" stroke-width="1"/>
<text x="32.40" y="495.48" font-size="9.4" fill="#231f20" textLength="15.20" lengthAdjust="spacingAndGlyphs">1.00</text>
<line x1="52.20" y1="492.58" x2="56.00" y2="492.58" stroke="#231f20" stroke-width="1"/>
<text x="32.40" y="515.77" font-size="9.4" fill="#231f20" textLength="15.20" lengthAdjust="spacingAndGlyphs">0.75</text>
<line x1="52.20" y1="512.87" x2="56.00" y2="512.87" stroke="#231f20" stroke-width="1"/>
<text x="32.40" y="536.06" font-size="9.4" fill="#231f20" textLength="15.20" lengthAdjust="spacingAndGlyphs">0.50</text>
<line x1="52.20" y1="533.16" x2="56.00" y2="533.16" stroke="#231f20" stroke-width="1"/>
<text x="32.40" y="556.35" font-size="9.4" fill="#231f20" textLength="15.20" lengthAdjust="spacingAndGlyphs">0.25</text>
<line x1="52.20" y1="553.45" x2="56.00" y2="553.45" stroke="#231f20" stroke-width="1"/>
<text x="32.40" y="576.64" font-size="9.4" fill="#231f20" textLength="15.20" lengthAdjust="spacingAndGlyphs">0.00</text>
<line x1="52.20" y1="573.74" x2="56.00" y2="573.74" stroke="#231f20" stroke-width="1"/>
<line x1="56.00" y1="449.80" x2="56.00" y2="574.20" stroke="#333" stroke-width="1.3"/>
<line x1="52.20" y1="573.74" x2="238.80" y2="573.74" stroke="#231f20" stroke-width="1.1"/>
<text transform="translate(25.50,562.60) rotate(-90)" font-size="9.0" fill="#231f20" textLength="102.90" lengthAdjust="spacingAndGlyphs">Fold change in colonies</text>
<rect x="63.30" y="493.29" width="12.80" height="80.45" fill="#a3334a" stroke="#8e2a3c" stroke-width="0.6"/>
<line x1="89.70" y1="474.72" x2="89.70" y2="484.06" stroke="#231f20" stroke-width="1"/>
<line x1="86.50" y1="474.72" x2="92.90" y2="474.72" stroke="#231f20" stroke-width="1.2"/>
<rect x="83.30" y="484.36" width="12.80" height="89.38" fill="#4a6288" stroke="#3d5378" stroke-width="0.6"/>
<line x1="110.00" y1="529.91" x2="110.00" y2="538.03" stroke="#231f20" stroke-width="1"/>
<line x1="106.80" y1="529.91" x2="113.20" y2="529.91" stroke="#231f20" stroke-width="1.2"/>
<rect x="103.60" y="538.33" width="12.80" height="35.41" fill="#70a558" stroke="#5f9148" stroke-width="0.6"/>
<line x1="130.20" y1="538.27" x2="130.20" y2="539.41" stroke="#231f20" stroke-width="1"/>
<line x1="127.00" y1="538.27" x2="133.40" y2="538.27" stroke="#231f20" stroke-width="1.2"/>
<rect x="123.80" y="539.71" width="12.80" height="34.03" fill="#6b476f" stroke="#5a3a5e" stroke-width="0.6"/>
<rect x="157.80" y="493.29" width="12.80" height="80.45" fill="#a3334a" stroke="#8e2a3c" stroke-width="0.6"/>
<line x1="184.20" y1="504.51" x2="184.20" y2="513.11" stroke="#231f20" stroke-width="1"/>
<line x1="181.00" y1="504.51" x2="187.40" y2="504.51" stroke="#231f20" stroke-width="1.2"/>
<rect x="177.80" y="513.41" width="12.80" height="60.33" fill="#4a6288" stroke="#3d5378" stroke-width="0.6"/>
<line x1="204.70" y1="508.81" x2="204.70" y2="511.08" stroke="#231f20" stroke-width="1"/>
<line x1="201.50" y1="508.81" x2="207.90" y2="508.81" stroke="#231f20" stroke-width="1.2"/>
<rect x="198.30" y="511.38" width="12.80" height="62.36" fill="#70a558" stroke="#5f9148" stroke-width="0.6"/>
<line x1="224.70" y1="527.32" x2="224.70" y2="528.53" stroke="#231f20" stroke-width="1"/>
<line x1="221.50" y1="527.32" x2="227.90" y2="527.32" stroke="#231f20" stroke-width="1.2"/>
<rect x="218.30" y="528.83" width="12.80" height="44.91" fill="#6b476f" stroke="#5a3a5e" stroke-width="0.6"/>
<line x1="99.50" y1="573.74" x2="99.50" y2="577.00" stroke="#231f20" stroke-width="1"/>
<line x1="194.50" y1="573.74" x2="194.50" y2="577.00" stroke="#231f20" stroke-width="1"/>
<text x="87.00" y="588.00" font-size="9.0" fill="#231f20" textLength="21.80" lengthAdjust="spacingAndGlyphs">BFU-E</text>
<text x="176.80" y="587.80" font-size="9.0" fill="#231f20" textLength="31.20" lengthAdjust="spacingAndGlyphs">CFU-GM</text>
<path d="M66.75,455 V448.3 H130.5 V499.3" fill="none" stroke="#333" stroke-width="1.1"/>
<path d="M66.75,468.8 V461.7 H111.2 V499.3" fill="none" stroke="#333" stroke-width="1.1"/>
<path d="M110.7,525.6 V517.9 H130.5 V525.6" fill="none" stroke="#333" stroke-width="1.1"/>
<path d="M162.5,462 V454.8 H226.3 V473" fill="none" stroke="#333" stroke-width="1.1"/>
<path d="M162.5,477.5 V470.8 H183.3 V477.5" fill="none" stroke="#333" stroke-width="1.1"/>
<path d="M184.5,490.8 V483.6 H225.8 V490.6" fill="none" stroke="#333" stroke-width="1.1"/>
<circle cx="94.40" cy="444.20" r="1.25" fill="#333"/>
<circle cx="98.10" cy="444.20" r="1.25" fill="#333"/>
<circle cx="101.80" cy="444.20" r="1.25" fill="#333"/>
<circle cx="105.50" cy="444.20" r="1.25" fill="#333"/>
<circle cx="84.60" cy="457.60" r="1.25" fill="#333"/>
<circle cx="88.30" cy="457.60" r="1.25" fill="#333"/>
<circle cx="92.00" cy="457.60" r="1.25" fill="#333"/>
<circle cx="95.70" cy="457.60" r="1.25" fill="#333"/>
<circle cx="191.50" cy="450.60" r="1.25" fill="#333"/>
<circle cx="195.20" cy="450.60" r="1.25" fill="#333"/>
<circle cx="198.90" cy="450.60" r="1.25" fill="#333"/>
<circle cx="173.30" cy="466.30" r="1.25" fill="#333"/>
<text x="116.50" y="515.10" font-size="9.0" fill="#231f20" textLength="8.00" lengthAdjust="spacingAndGlyphs">ns</text>
<text x="201.30" y="480.60" font-size="9.0" fill="#231f20" textLength="8.00" lengthAdjust="spacingAndGlyphs">ns</text>
<rect x="80.60" y="593.80" width="13.20" height="7.40" fill="#a3334a" stroke="#8e2a3c" stroke-width="0.7"/>
<rect x="80.60" y="607.00" width="13.20" height="7.40" fill="#4a6288" stroke="#3d5378" stroke-width="0.7"/>
<rect x="135.80" y="593.80" width="13.20" height="7.40" fill="#70a558" stroke="#5f9148" stroke-width="0.7"/>
<rect x="135.80" y="607.00" width="13.20" height="7.40" fill="#6b476f" stroke="#5a3a5e" stroke-width="0.7"/>
<text x="97.00" y="601.20" font-size="9.0" fill="#231f20" textLength="23.50" lengthAdjust="spacingAndGlyphs">DMSO</text>
<text x="97.00" y="614.20" font-size="9.0" fill="#231f20" textLength="26.00" lengthAdjust="spacingAndGlyphs">Cren50</text>
<text x="153.00" y="601.20" font-size="9.0" fill="#231f20" textLength="23.70" lengthAdjust="spacingAndGlyphs">Rux0.1</text>
<text x="153.00" y="614.20" font-size="9.0" fill="#231f20" textLength="55.20" lengthAdjust="spacingAndGlyphs">Cren50+Rux0.1</text>
<rect x="0" y="0" width="520" height="1.7" fill="#454545"/>
<rect x="0" y="0" width="1.5" height="624" fill="#4a4a4a"/>
<rect x="518" y="0" width="2" height="624" fill="#4a4a4a"/>
<rect x="0" y="622.5" width="520" height="1.5" fill="#111"/>
</svg>
</body></html>
